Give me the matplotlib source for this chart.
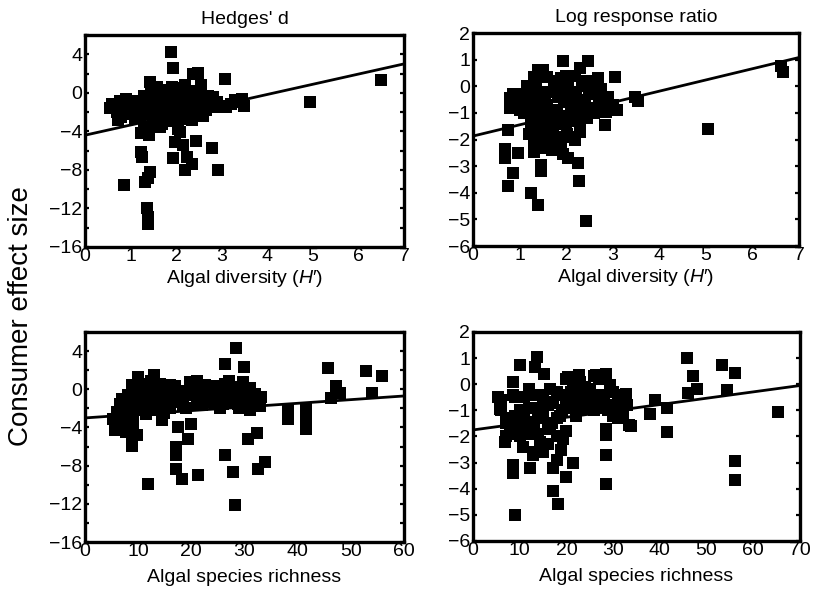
import matplotlib
matplotlib.use("Agg")
import matplotlib.pyplot as plt
from matplotlib.ticker import MultipleLocator

plt.rcParams['font.family'] = ['Liberation Sans', 'DejaVu Sans']
plt.rcParams['mathtext.fontset'] = 'custom'
plt.rcParams['mathtext.it'] = 'Liberation Sans:italic'
plt.rcParams['mathtext.rm'] = 'Liberation Sans'
plt.rcParams['axes.unicode_minus'] = True

# ---------------- data ----------------
# Panel A: Hedges' d vs algal diversity (H')
hd_div_x = [1.88, 1.94, 2.38, 2.47, 3.07, 1.43, 1.57,
            0.55, 0.66, 0.77, 0.72, 0.80, 0.90, 1.00, 1.10, 1.20, 1.25,
            1.30, 1.30, 1.40, 1.42, 1.45, 1.50, 1.55, 1.60, 1.65, 1.70, 1.72, 1.78, 1.80,
            1.85, 1.90, 1.92, 1.95, 2.00, 2.00, 2.05, 2.08, 2.10, 2.12, 2.15, 2.20, 2.22,
            2.25, 2.30, 2.32, 2.35, 2.40, 2.45, 2.50, 2.52, 2.58, 2.60, 2.70, 2.75, 2.85,
            2.95, 3.00, 3.10, 3.44, 3.50, 3.30,
            1.24, 1.24, 1.26, 1.97, 2.16, 2.43, 2.78, 1.94, 2.23, 2.34, 2.20, 2.92,
            1.43, 1.38, 1.32, 0.86, 1.35, 1.39, 1.39, 4.93, 6.50,
            0.90, 1.05, 1.15, 1.35]
hd_div_y = [4.2, 2.6, 2.0, 2.1, 1.4, 1.1, 0.6,
            -1.6, -1.5, -0.8, -2.8, -2.5, -1.2, -1.5, -1.9, -2.5, -1.0,
            -3.8, -0.3, -4.4, -3.5, -2.0, -1.2, -0.5, -2.7, -1.5, -3.2, -0.3, -2.0, -1.0,
            0.3, -1.7, -0.6, -2.5, -1.2, 0.5, -3.8, -4.1, -0.2, -2.0, -1.1, 0.8, -2.7,
            -0.8, -1.5, 0.2, -0.4, -2.2, -1.0, 0.0, -1.8, -2.4, -0.5, -0.3, -0.9, -1.5,
            -1.4, -1.4, -1.5, -0.6, -1.4, -0.7,
            -4.2, -6.1, -6.7, -5.1, -5.4, -5.0, -5.7, -6.8, -6.7, -7.4, -8.0, -8.0,
            -8.2, -8.8, -9.3, -9.6, -12.0, -12.9, -13.6, -0.95, 1.3,
            -0.6, -1.2, -2.0, -1.5]
hd_div_x2 = [0.6, 0.7, 0.85, 0.95, 1.05, 1.1, 1.2, 1.3, 1.4, 1.5,
             1.55, 1.6, 1.7, 1.75, 1.8, 1.9, 2.0, 2.05, 2.1, 2.2,
             2.25, 2.3, 2.4, 2.5, 2.55, 2.6, 2.65, 2.7, 2.8, 2.9,
             3.2, 3.4, 1.45, 1.65, 1.85, 2.15, 2.35, 2.45]
hd_div_y2 = [-1.2, -2.0, -1.8, -2.2, -0.8, -2.6, -1.6, -2.2, -0.8, -2.5,
             -3.2, -0.5, -1.0, -2.5, -1.6, 0.6, -2.0, -0.6, -1.5, -1.8,
             0.2, -0.6, -0.6, -1.2, 0.8, -1.0, -1.8, -0.5, -0.4, -1.0,
             -1.2, -1.0, 0.3, -3.5, -2.9, 0.0, -2.8, -1.6]

# Panel B: log response ratio vs algal diversity (H')
lr_div_x = [1.93, 2.47, 1.39, 1.54, 2.29, 2.68, 3.04, 3.47, 3.55, 0.79, 0.79, 0.75,
            0.68, 0.68, 0.97, 0.86, 0.75, 1.25, 1.39, 1.47, 1.47, 1.93, 2.05, 2.25,
            2.27, 2.43, 2.83, 2.86, 2.14, 2.30, 1.32, 5.05, 6.62, 6.65,
            1.00, 1.10, 1.15, 1.20, 1.25, 1.30, 1.35, 1.38, 1.42, 1.45, 1.50, 1.52,
            1.55, 1.60, 1.62, 1.65, 1.70, 1.72, 1.75, 1.80, 1.82, 1.85, 1.90, 1.95,
            2.00, 2.02, 2.05, 2.10, 2.15, 2.20, 2.22, 2.30, 2.35, 2.40, 2.45, 2.50,
            2.55, 2.60, 2.75, 2.90, 3.00, 1.15, 0.95, 1.05, 1.75, 1.60, 2.20]
lr_div_y = [0.95, 0.95, 0.6, 0.35, 0.7, 0.3, 0.35, -0.4, -0.55, -0.45, -0.8, -1.65,
            -2.35, -2.7, -2.5, -3.25, -3.75, -4.0, -4.45, -2.95, -3.2, -2.55, -2.7, -2.9,
            -3.55, -5.05, -1.45, -0.95, -1.9, -1.7, -2.45, -1.6, 0.75, 0.55,
            -0.3, -1.0, -0.4, -1.8, -1.2, -0.6, 0.0, -1.5, -2.1, -0.9, -0.2, -1.3,
            -1.8, -0.7, -2.2, -1.1, -0.2, -1.6, -2.0, -0.9, -0.4, -1.4, 0.3, -1.1,
            -0.3, -1.8, 0.1, -0.7, -1.3, 0.4, -0.2, -0.9, 0.0, -0.5, -1.2, -0.1,
            -0.8, -0.3, -0.1, -0.4, -0.7, 0.0, -0.3, -0.7, 0.2, 0.35, -2.0]
lr_div_x2 = [1.1, 1.2, 1.25, 1.3, 1.35, 1.4, 1.45, 1.5, 1.55, 1.6,
             1.65, 1.7, 1.75, 1.8, 1.85, 1.9, 1.95, 2.0, 2.1, 2.15,
             2.25, 2.35, 2.45, 2.6, 2.7, 2.8, 3.1, 0.85, 0.9, 1.0,
             1.3, 1.5, 1.7, 1.9, 2.0, 2.3, 1.4, 1.6]
lr_div_y2 = [-0.3, -0.9, -1.6, -2.1, -1.0, -0.4, -1.7, -2.3, -0.6, -1.4,
             -1.9, -0.9, -1.3, -2.3, -0.1, -1.9, -0.6, -1.4, -1.0, -0.4,
             -1.2, -0.6, 0.2, -1.0, -0.5, -0.8, -0.9, -0.3, -0.6, -0.9,
             0.35, 0.6, -2.4, -2.2, 0.4, -1.4, -1.2, -1.0]

# Panel C: Hedges' d vs algal species richness
hd_ric_x = [10.0, 13.0, 14.1, 15.4, 8.8, 8.1, 11.3, 7.2, 6.3, 5.3, 5.6, 7.8, 8.8, 8.8,
            11.0, 12.5, 14.4, 16.3, 15.7, 14.4, 17.2, 18.8, 17.5, 19.9, 19.4, 17.2, 17.2,
            17.2, 18.2, 11.9, 21.3, 19.7, 21.3, 22.6, 23.5, 24.7, 25.4, 26.3, 26.3, 26.3,
            27.9, 28.2, 28.4, 27.6, 28.8, 29.9, 29.8, 30.7, 30.7, 32.3, 32.6, 33.8, 33.1,
            31.6, 38.2, 38.2, 41.5, 41.5, 41.5, 45.7, 47.3, 46.3, 47.9, 52.9, 55.9, 53.9,
            9.5, 10.5, 12.0, 13.5, 14.8, 16.0, 17.8, 18.5, 20.5, 21.0, 22.0, 23.0, 24.0,
            25.0, 26.0, 27.0, 28.0, 29.0, 30.0, 31.0, 32.0, 6.5, 8.5, 9.0, 9.8, 11.5, 7.5]
hd_ric_y = [1.3, 1.5, 0.6, 0.4, 0.4, -0.6, -0.6, -1.8, -2.7, -3.1, -4.3, -4.5, -5.2, -5.9,
            -0.8, -1.3, -0.3, -0.5, -1.8, -3.2, -1.3, -0.6, -3.9, -3.6, -5.2, -6.0, -6.9,
            -8.3, -9.4, -9.9, -9.0, 0.8, -1.0, 0.4, -1.3, -0.8, -2.0, 0.6, 2.7, -6.9,
            -8.7, -12.1, 4.3, -0.3, -1.5, 2.3, 0.8, -1.0, -5.2, -4.6, -8.3, -7.6, -0.8,
            -1.5, -3.1, -2.1, -2.0, -3.0, -4.2, 2.2, 0.3, -0.9, -0.4, 1.9, 1.4, -0.4,
            -1.5, -2.2, 0.2, -1.0, -2.5, 0.5, -0.2, -1.8, -0.2, 0.9, -1.6, -0.2, -1.0,
            0.2, -1.5, -0.8, -0.1, -2.0, -0.3, -2.2, -1.0, -1.5, -3.0, -2.5, -4.8, -2.6, -3.5]
hd_ric_x2 = [6, 7, 8, 9, 10, 10.5, 11, 12, 12.5, 13,
             14, 15, 15.5, 16, 17, 18, 19, 20, 21, 22,
             23, 24, 25, 26, 27, 28, 29, 30, 31, 32,
             33, 9, 11, 13, 16, 19, 22, 25, 28, 31]
hd_ric_y2 = [-2.4, -1.0, -2.0, -0.2, -1.2, 0.6, -1.8, -0.4, 0.9, -2.2,
             0.2, -1.4, -0.2, -2.0, 0.3, -1.0, -0.4, 0.4, -1.6, 0.0,
             -0.8, 0.3, -1.1, -0.4, 0.9, -1.3, 0.2, -0.9, -0.3, -0.5,
             -1.7, -3.6, -1.5, -0.6, -1.2, -2.0, -1.0, -0.6, -1.0, 0.1]

# Panel D: log response ratio vs algal species richness
lr_ric_x = [13.6, 10.0, 13.2, 15.3, 8.6, 8.6, 5.4, 5.7, 6.8, 8.6, 8.6, 12.1, 8.9, 10.7,
            14.3, 12.8, 17.1, 18.9, 19.3, 20.0, 21.4, 17.1, 18.2, 20.0, 16.4, 17.1, 14.3,
            12.5, 11.4, 7.1, 9.3, 20.3, 22.8, 21.4, 18.6, 16.4, 26.4, 28.5, 29.3, 27.1,
            24.3, 28.5, 28.5, 28.5, 28.5, 32.8, 31.4, 33.9, 32.1, 37.8, 39.0, 41.5, 41.5,
            45.8, 47.0, 47.9, 46.1, 53.2, 56.1, 54.3, 56.1, 56.1, 65.4, 33.5,
            10.0, 11.0, 12.0, 13.0, 14.0, 15.0, 16.0, 17.0, 18.0, 19.0, 20.0, 22.0, 23.0,
            24.0, 25.0, 26.0, 27.0, 29.0, 30.0, 31.0, 32.0, 6.0, 7.0, 9.0, 15.0, 13.0, 18.0]
lr_ric_y = [1.04, 0.72, 0.66, 0.40, 0.08, -0.43, -0.49, -0.94, -2.2, -3.1, -3.4, -3.2, -5.0, -2.4,
            -2.2, -2.7, -3.2, -2.5, -2.1, -3.55, -3.0, -4.1, -4.6, -1.8, -0.17, -0.68, -0.94,
            -0.43, -1.45, -1.5, -1.7, 0.28, 0.34, -0.1, -1.2, -1.7, 0.34, 0.4, -0.04, -0.43,
            -0.55, -1.7, -1.96, -2.7, -3.8, -0.36, -1.07, -1.58, -1.2, -1.13, -0.6, -0.92, -1.82,
            1.0, 0.31, -0.2, -0.35, 0.74, 0.42, -0.22, -2.94, -3.67, -1.08, -1.56,
            -1.0, -0.5, -1.9, -0.9, -1.3, -0.6, -2.3, -1.5, -0.3, -1.0, 0.2, -0.6, -0.3,
            -0.9, -0.2, -0.8, 0.2, -0.8, -0.3, -0.5, -0.9, -1.0, -2.0, -1.2, -2.6, -2.6, -2.9]
lr_ric_x2 = [6, 7, 8, 9, 10, 11, 12, 13, 14, 15,
             16, 17, 18, 19, 20, 21, 22, 23, 24, 25,
             26, 27, 28, 29, 30, 31, 32, 33,
             8, 10, 12, 14, 16, 18, 20, 22, 24, 26, 28, 30]
lr_ric_y2 = [-0.6, -1.3, -1.9, -0.5, -1.6, -1.0, -0.2, -1.5, -0.4, -1.1,
             -1.6, -0.7, -2.0, -0.4, -0.9, -0.3, -0.8, 0.1, -0.3, -0.6,
             -1.0, -0.6, -0.5, -1.0, -0.8, -1.3, -0.4, -0.8,
             -1.4, -2.0, -0.9, -1.9, -0.8, -1.3, -0.5, -1.2, -0.1, 0.3, -0.9, -1.2]

# fitted regression lines (end points)
fit_div_x = [0, 7]
fit_hd_div_y = [-4.4, 3.0]
fit_lr_div_y = [-1.87, 1.08]
fit_ric_hd_x = [0, 60]
fit_hd_ric_y = [-3.0, -0.7]
fit_ric_lr_x = [0, 70]
fit_lr_ric_y = [-1.75, -0.05]

titles = ["Hedges' d", "Log response ratio"]
xlabel_div = "Algal diversity ($\\mathit{H}$\u2032)"
xlabel_ric = "Algal species richness"
ylabel = "Consumer effect size"

# ---------------- figure ----------------
fig = plt.figure(figsize=(8.21, 5.96), dpi=100)
positions = [
    [0.1035, 0.5856, 0.3886, 0.3557],
    [0.5761, 0.5872, 0.3971, 0.3574],
    [0.1035, 0.0906, 0.3886, 0.3523],
    [0.5761, 0.0923, 0.3983, 0.3507],
]
axes = [fig.add_axes(p) for p in positions]

FS = 14
MS = 72

panels = [
    (hd_div_x, hd_div_y, hd_div_x2, hd_div_y2, fit_div_x, fit_hd_div_y, (0, 7), (-16, 6), 1, 4, 2, xlabel_div),
    (lr_div_x, lr_div_y, lr_div_x2, lr_div_y2, fit_div_x, fit_lr_div_y, (0, 7), (-6, 2), 1, 1, None, xlabel_div),
    (hd_ric_x, hd_ric_y, hd_ric_x2, hd_ric_y2, fit_ric_hd_x, fit_hd_ric_y, (0, 60), (-16, 6), 10, 4, 2, xlabel_ric),
    (lr_ric_x, lr_ric_y, lr_ric_x2, lr_ric_y2, fit_ric_lr_x, fit_lr_ric_y, (0, 70), (-6, 2), 10, 1, None, xlabel_ric),
]

for i, (ax, (x, y, x2, y2, fx, fy, xl, yl, xmaj, ymaj, ymin, xlab)) in enumerate(zip(axes, panels)):
    ax.scatter(x, y, marker='s', s=MS, color='black', linewidths=0, zorder=3, clip_on=False)
    ax.scatter(x2, y2, marker='s', s=MS, color='black', linewidths=0, zorder=3, clip_on=False)
    ax.plot(fx, fy, color='black', lw=2.0, zorder=4, solid_capstyle='butt')
    ax.set_xlim(*xl)
    ax.set_ylim(*yl)
    ax.xaxis.set_major_locator(MultipleLocator(xmaj))
    ax.yaxis.set_major_locator(MultipleLocator(ymaj))
    if ymin:
        ax.yaxis.set_minor_locator(MultipleLocator(ymin))
    for sp in ax.spines.values():
        sp.set_linewidth(2.4)
    ax.tick_params(axis='y', which='both', direction='in', left=True, right=True,
                   length=3, width=1.6, labelsize=FS, pad=2)
    ax.tick_params(axis='x', which='both', direction='in', bottom=False, top=False,
                   labelsize=FS, pad=1)
    ax.set_xlabel(xlab, fontsize=FS, labelpad=2 if i < 2 else 6)
    if i < 2:
        ax.set_title(titles[i], fontsize=FS, pad=8)

fig.text(0.026, 0.47, ylabel, rotation=90, fontsize=20, ha='center', va='center')

fig.savefig("out.png", dpi=100)
